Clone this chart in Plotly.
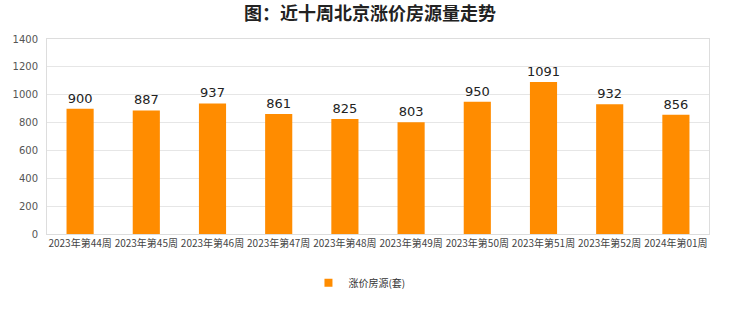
import plotly.graph_objects as go

weeks = ["2023年第44周", "2023年第45周", "2023年第46周", "2023年第47周", "2023年第48周",
         "2023年第49周", "2023年第50周", "2023年第51周", "2023年第52周", "2024年第01周"]
values = [900, 887, 937, 861, 825, 803, 950, 1091, 932, 856]
series_name = "涨价房源(套)"
title = "图：近十周北京涨价房源量走势"
bar_color = "#FF8C00"

fig = go.Figure()
fig.add_trace(go.Bar(
    x=weeks, y=values, name=series_name, showlegend=False,
    marker=dict(color=bar_color, line=dict(width=0)),
    text=[str(v) for v in values], textposition="outside",
    textfont=dict(size=13, color="#222", family="DejaVu Sans"),
    cliponaxis=False, constraintext="none",
))
# legend entry with a small square marker
fig.add_trace(go.Scatter(
    x=[weeks[0]], y=[None], mode="markers", name=series_name,
    marker=dict(symbol="square", size=8, color=bar_color),
))

fig.update_layout(
    width=740, height=312,
    margin=dict(l=47, r=31, t=39, b=78),
    paper_bgcolor="white", plot_bgcolor="white",
    bargap=0.59,
    title=dict(text=title, x=0.5, xanchor="center", y=0.955, yanchor="middle",
               font=dict(size=18, color="#222", family="Noto Sans CJK SC", weight=600)),
    showlegend=True,
    legend=dict(orientation="h", x=0.472, xanchor="center", y=-0.25, yanchor="middle",
                itemwidth=30,
                font=dict(size=10, color="#333", family="Noto Sans CJK SC")),
    font=dict(family="Noto Sans CJK SC"),
)
fig.update_yaxes(range=[0, 1400], dtick=200, showgrid=True, gridcolor="#e6e6e6",
                 tickfont=dict(size=10, color="#555", family="DejaVu Sans"),
                 showline=True, linecolor="#ddd", mirror=True, zeroline=False,
                 ticks="", ticklabelstandoff=6)
fig.update_xaxes(range=[-0.5, len(weeks) - 0.5], showline=True, linecolor="#ddd", mirror=True,
                 tickfont=dict(size=10, color="#444", family="Noto Sans CJK SC"),
                 tickangle=0)

fig.write_html("out.html")
